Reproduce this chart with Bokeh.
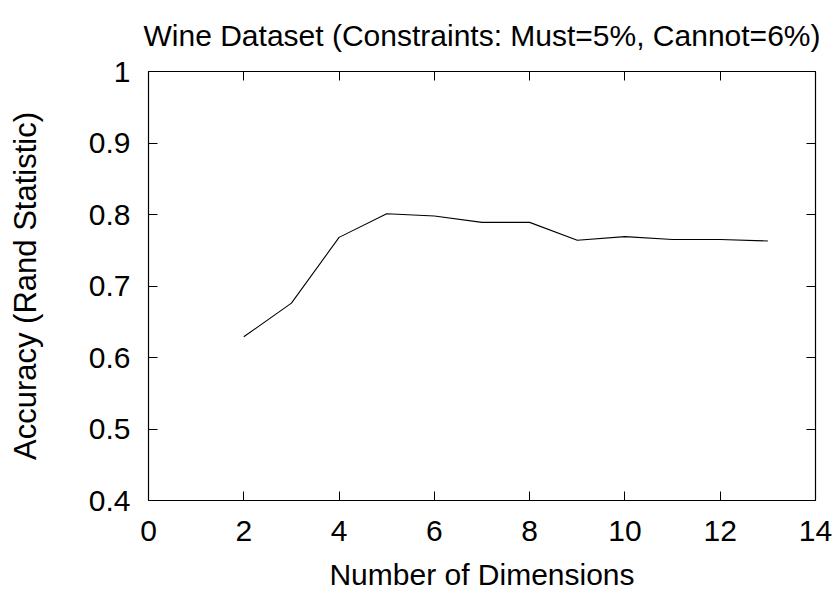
from bokeh.plotting import figure
from bokeh.models import LinearAxis, FixedTicker, Range1d
from bokeh.embed import file_html
from bokeh.resources import INLINE

# Rand-statistic accuracy vs. number of projected dimensions
dimensions = [2, 3, 4, 5, 6, 7, 8, 9, 10, 11, 12, 13]
accuracy = [0.629, 0.676, 0.768, 0.801, 0.798, 0.789, 0.789, 0.764, 0.769, 0.765, 0.765, 0.763]

x_ticks = [0, 2, 4, 6, 8, 10, 12, 14]
y_ticks = [0.4, 0.5, 0.6, 0.7, 0.8, 0.9, 1.0]

TITLE = "Wine Dataset (Constraints: Must=5%, Cannot=6%)"
FONT = "Liberation Sans"
SIZE = "30px"

p = figure(
    width=839, height=593,
    x_range=Range1d(0, 14), y_range=Range1d(0.4, 1.0),
    output_backend="svg", toolbar_location=None,
    x_axis_type=None, y_axis_type=None,
    min_border_left=148, min_border_right=24,
    min_border_top=71, min_border_bottom=92,
    title=TITLE,
)
p.title.align = "center"
p.title.vertical_align = "top"
p.title.text_font = FONT
p.title.text_font_size = SIZE
p.title.text_font_style = "normal"
p.title.text_color = "black"
p.title.text_line_height = 1.0
p.title.standoff = 36

p.xgrid.visible = False
p.ygrid.visible = False
p.outline_line_color = "black"
p.outline_line_width = 1.2
p.background_fill_color = "white"
p.border_fill_color = "white"


def style_axis(ax, ticks, labels=True):
    ax.ticker = FixedTicker(ticks=ticks)
    ax.major_tick_in = 9
    ax.major_tick_out = 0
    ax.minor_tick_line_color = None
    ax.axis_line_color = None
    ax.major_tick_line_color = "black"
    ax.major_tick_line_width = 1
    ax.major_label_text_font = FONT
    ax.major_label_text_font_size = SIZE
    ax.major_label_text_color = "black"
    ax.axis_label_text_font = FONT
    ax.axis_label_text_font_size = SIZE
    ax.axis_label_text_font_style = "normal"
    ax.axis_label_text_color = "black"
    if not labels:
        ax.major_label_text_color = None
        ax.major_label_text_font_size = "0px"
        ax.major_label_standoff = 0


xb = LinearAxis(axis_label="Number of Dimensions")
style_axis(xb, x_ticks)
xb.major_label_standoff = 20
xb.axis_label_standoff = 14
xb.major_label_overrides = {t: str(t) for t in x_ticks}
p.add_layout(xb, "below")

yl = LinearAxis(axis_label="Accuracy (Rand Statistic)")
style_axis(yl, y_ticks)
yl.axis_label_text_font_size = "31px"
yl.major_label_standoff = 18
yl.axis_label_standoff = 43
yl.major_label_overrides = {0.4: "0.4", 0.5: "0.5", 0.6: "0.6", 0.7: "0.7",
                            0.8: "0.8", 0.9: "0.9", 1.0: "1"}
p.add_layout(yl, "left")

xt = LinearAxis()
style_axis(xt, x_ticks, labels=False)
p.add_layout(xt, "above")

yr = LinearAxis()
style_axis(yr, y_ticks, labels=False)
p.add_layout(yr, "right")

p.line(dimensions, accuracy, line_color="black", line_width=1.1)

open("out.html", "w").write(file_html(p, INLINE))
